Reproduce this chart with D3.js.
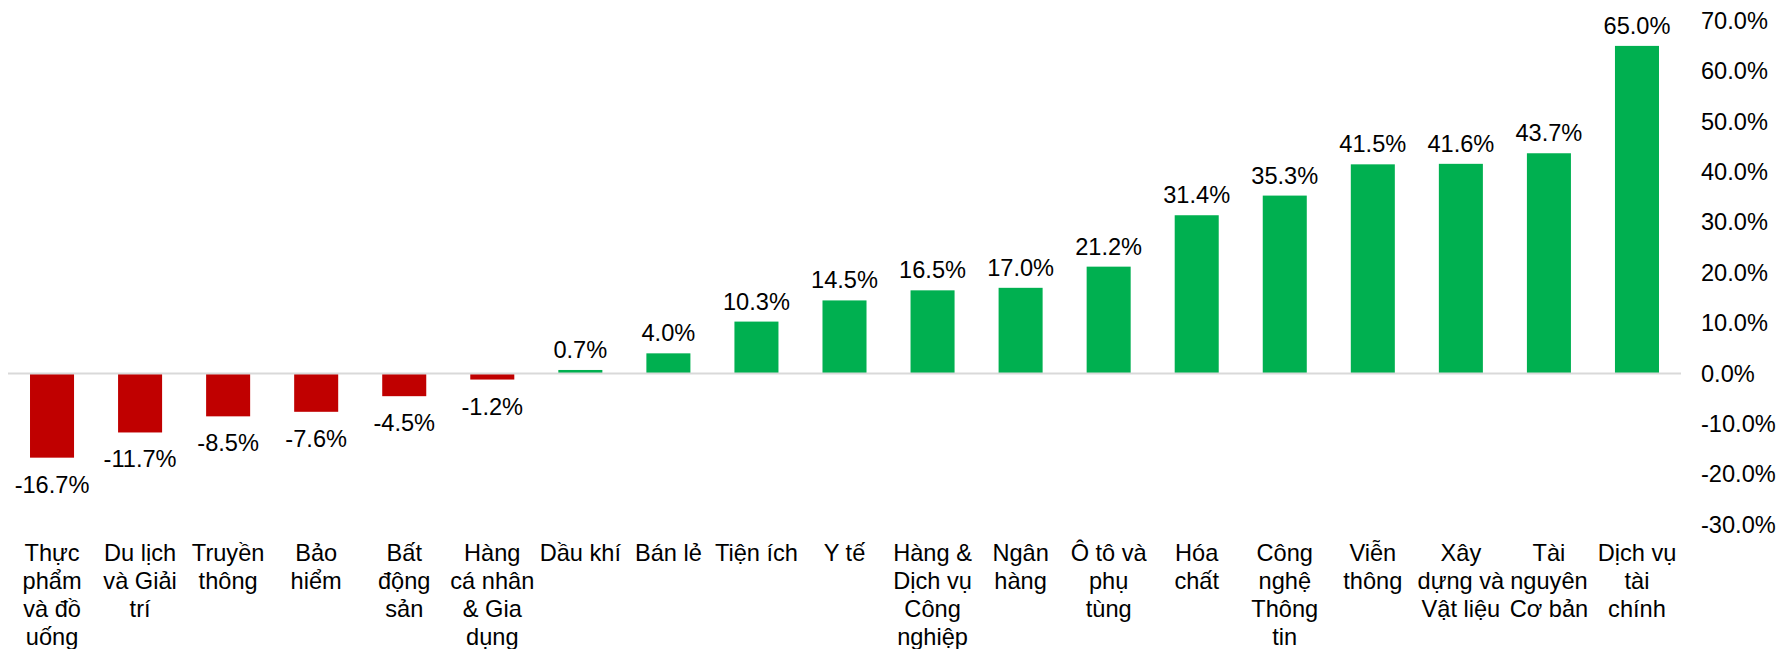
<!DOCTYPE html>
<html>
<head>
<meta charset="utf-8">
<script src="https://cdn.jsdelivr.net/npm/d3@7"></script>
<style>
  body { margin: 0; background: #fff; }
  svg { display: block; font-family: Arial, "Liberation Sans", sans-serif; }
</style>
</head>
<body>
<svg id="chart" width="1779" height="649"></svg>
<script>
// sector names, already broken into lines the way the reference wraps them
const categories = [
  ['Thực', 'phẩm', 'và đồ', 'uống'],
  ['Du lịch', 'và Giải', 'trí'],
  ['Truyền', 'thông'],
  ['Bảo', 'hiểm'],
  ['Bất', 'động', 'sản'],
  ['Hàng', 'cá nhân', '& Gia', 'dụng'],
  ['Dầu khí'],
  ['Bán lẻ'],
  ['Tiện ích'],
  ['Y tế'],
  ['Hàng &', 'Dịch vụ', 'Công', 'nghiệp'],
  ['Ngân', 'hàng'],
  ['Ô tô và', 'phụ', 'tùng'],
  ['Hóa', 'chất'],
  ['Công', 'nghệ', 'Thông', 'tin'],
  ['Viễn', 'thông'],
  ['Xây', 'dựng và', 'Vật liệu'],
  ['Tài', 'nguyên', 'Cơ bản'],
  ['Dịch vụ', 'tài', 'chính']
];

const values = [-16.7, -11.7, -8.5, -7.6, -4.5, -1.2, 0.7, 4.0, 10.3, 14.5,
  16.5, 17.0, 21.2, 31.4, 35.3, 41.5, 41.6, 43.7, 65.0];

const yTicks = [70, 60, 50, 40, 30, 20, 10, 0, -10, -20, -30];

const data = categories.map((c, i) => ({ key: i, lines: c, value: values[i] }));

const svg = d3.select('#chart');
const fontSize = 23.6;

const xScale = d3.scaleBand()
  .domain(data.map(d => d.key))
  .range([8, 1681])
  .paddingInner(0.5)
  .paddingOuter(0.25);

const yScale = d3.scaleLinear()
  .domain([-30, 70])
  .range([524.7, 20.7]);

// y axis on the right, labels only
const yAxis = svg.append('g')
  .attr('transform', 'translate(1701,0)')
  .call(d3.axisRight(yScale).tickValues(yTicks).tickSize(0).tickPadding(0)
    .tickFormat(d => d.toFixed(1) + '%'));
yAxis.select('.domain').remove();
yAxis.selectAll('text')
  .attr('font-size', fontSize)
  .attr('font-family', 'Arial, "Liberation Sans", sans-serif')
  .attr('fill', '#000');

// bars
svg.append('g')
  .selectAll('rect')
  .data(data)
  .join('rect')
  .attr('x', d => xScale(d.key))
  .attr('width', xScale.bandwidth())
  .attr('y', d => yScale(Math.max(0, d.value)))
  .attr('height', d => Math.abs(yScale(d.value) - yScale(0)))
  .attr('fill', d => d.value < 0 ? '#C00000' : '#00B050');

// zero line
svg.append('line')
  .attr('x1', xScale.range()[0])
  .attr('x2', xScale.range()[1])
  .attr('y1', yScale(0))
  .attr('y2', yScale(0))
  .attr('stroke', '#d9d9d9')
  .attr('stroke-width', 2);

// value labels
svg.append('g')
  .selectAll('text')
  .data(data)
  .join('text')
  .attr('x', d => xScale(d.key) + xScale.bandwidth() / 2)
  .attr('y', d => d.value < 0 ? yScale(d.value) + 35 : yScale(d.value) - 12)
  .attr('text-anchor', 'middle')
  .attr('font-size', fontSize)
  .attr('fill', '#000')
  .text(d => d.value.toFixed(1) + '%');

// category labels
const catLabels = svg.append('g')
  .selectAll('text')
  .data(data)
  .join('text')
  .attr('text-anchor', 'middle')
  .attr('font-size', fontSize)
  .attr('fill', '#000')
  .attr('transform', d => `translate(${xScale(d.key) + xScale.bandwidth() / 2},561)`);

catLabels.selectAll('tspan')
  .data(d => d.lines)
  .join('tspan')
  .attr('x', 0)
  .attr('y', (d, i) => i * 28)
  .text(d => d);
</script>
</body>
</html>
